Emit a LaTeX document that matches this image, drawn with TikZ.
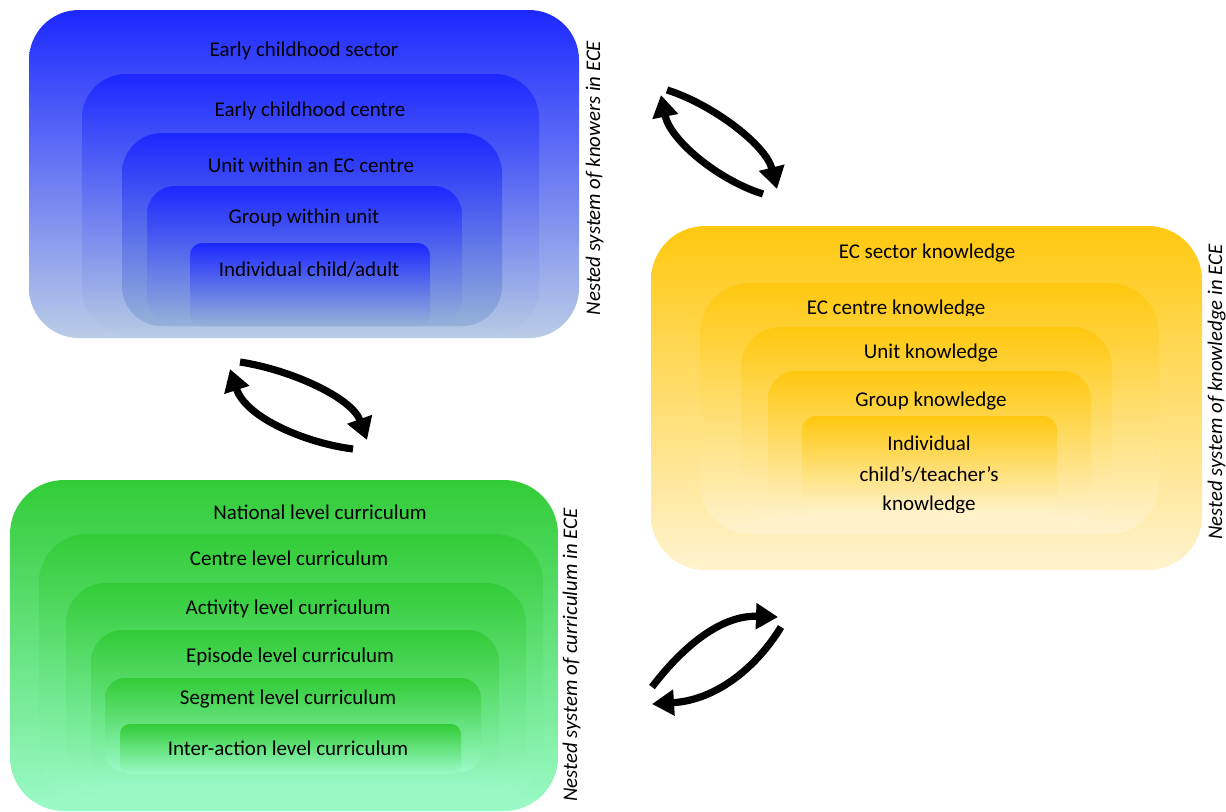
\documentclass[tikz,border=0pt]{standalone}
\usepackage{fontspec}
\setmainfont{Carlito}
\usetikzlibrary{arrows.meta}
\definecolor{bluetop}{RGB}{28,40,255}
\definecolor{bluebotA}{RGB}{186,205,230}
\definecolor{bluebotB}{RGB}{150,178,216}
\definecolor{yeltop}{RGB}{255,200,15}
\definecolor{yelbot}{RGB}{255,243,206}
\definecolor{grntop}{RGB}{50,204,55}
\definecolor{grnbot}{RGB}{155,250,200}
\tikzset{
  lbl/.style={font=\fontsize{10.5}{12.6}\selectfont, text height=0.62em, text depth=0pt, inner sep=0pt, anchor=center},
  side/.style={font=\fontsize{10.4}{12.6}\selectfont\itshape, text height=0.62em, text depth=0pt, inner sep=0pt, anchor=center, rotate=90},
  cyc/.style={line width=3.6pt, line cap=butt, -{Triangle[length=11pt,width=12.5pt]}},
}
\begin{document}
\begin{tikzpicture}[x=0.5pt,y=-0.5pt]
\useasboundingbox (0,0) rectangle (1226,811);
% ---------------- blue: knowers ----------------
\shade[top color=bluetop, bottom color=bluebotA, rounded corners=25pt] (29,10) rectangle (579,338);
\node[lbl] (b1) at (304,50) {Early childhood sector};
\shade[top color=bluetop, bottom color=bluebotA!85!bluebotB, rounded corners=22pt] (82,74) rectangle (539,333);
\node[lbl] (b2) at (310,110) {Early childhood centre};
\shade[top color=bluetop, bottom color=bluebotB, rounded corners=20pt] (122,133) rectangle (502,326);
\node[lbl] (b3) at (311,166) {Unit within an EC centre};
\shade[top color=bluetop, bottom color=bluebotB, rounded corners=14pt] (147,186) rectangle (462,326);
\node[lbl] (b4) at (304,217) {Group within unit};
\shade[top color=bluetop, bottom color=bluebotB, rounded corners=6pt] (190,243) rectangle (430,326);
\node[lbl] (b5) at (309,270) {Individual child/adult};
\node[side] (bl) at (594,178) {Nested system of knowers in ECE};
% ---------------- yellow: knowledge ----------------
\shade[top color=yeltop, bottom color=yelbot, rounded corners=27pt] (651,226) rectangle (1202,570);
\node[lbl] (y1) at (927,252) {EC sector knowledge};
\shade[top color=yeltop, bottom color=yelbot, rounded corners=25pt] (700,283) rectangle (1159,534);
\begin{scope}
\clip (700,283) rectangle (1159,315.5);
\node[lbl] (y2) at (896,308) {EC centre knowledge};
\end{scope}
\shade[top color=yeltop, bottom color=yelbot, rounded corners=20pt] (741,327) rectangle (1112,525);
\node[lbl] (y3) at (931,352) {Unit knowledge};
\shade[top color=yeltop, bottom color=yelbot, rounded corners=14pt] (768,371) rectangle (1091,520);
\node[lbl] (y4) at (931,400) {Group knowledge};
\shade[top color=yeltop, bottom color=yelbot, rounded corners=7pt] (802,416) rectangle (1057,515);
\node[lbl] (y5a) at (929,444) {Individual};
\node[lbl] (y5b) at (929,475) {child’s/teacher’s};
\begin{scope}
\clip (802,480) rectangle (1057,512.5);
\node[lbl] (y5c) at (929,504) {knowledge};
\end{scope}
\node[side] (yl) at (1216,392) {Nested system of knowledge in ECE};
% ---------------- green: curriculum ----------------
\shade[top color=grntop, bottom color=grnbot, rounded corners=27pt] (10,480) rectangle (558,811);
\node[lbl] (g1) at (320,513) {National level curriculum};
\shade[top color=grntop, bottom color=grnbot, rounded corners=24pt] (39,534) rectangle (543,800);
\node[lbl] (g2) at (289,559) {Centre level curriculum};
\shade[top color=grntop, bottom color=grnbot, rounded corners=20pt] (66,583) rectangle (526,795);
\node[lbl] (g3) at (288,608) {Activity level curriculum};
\shade[top color=grntop, bottom color=grnbot, rounded corners=16pt] (91,630) rectangle (499,790);
\node[lbl] (g4) at (290,656) {Episode level curriculum};
\shade[top color=grntop, bottom color=grnbot, rounded corners=10pt] (105,678) rectangle (481,772);
\node[lbl] (g5) at (288,698) {Segment level curriculum};
\shade[top color=grntop, bottom color=grnbot, rounded corners=5pt] (120,724) rectangle (461,774);
\node[lbl] (g6) at (288,749) {Inter-action level curriculum};
\node[side] (gl) at (571,655) {Nested system of curriculum in ECE};
% ---------------- cycle arrows ----------------
\coordinate (p1s) at (667,90);   \coordinate (p1e) at (777,189);
\coordinate (p2s) at (763,194);  \coordinate (p2e) at (661,95);
\draw[cyc] (p1s) .. controls (712,104) and (766,145) .. (p1e);
\draw[cyc] (p2s) .. controls (718,180) and (670,140) .. (p2e);
\coordinate (q1s) at (240,362);  \coordinate (q1e) at (367,440);
\coordinate (q2s) at (353,449);  \coordinate (q2e) at (230,369);
\draw[cyc] (q1s) .. controls (292,370) and (352,398) .. (q1e);
\draw[cyc] (q2s) .. controls (306,443) and (246,418) .. (q2e);
\coordinate (r1s) at (652,687);  \coordinate (r1e) at (778,617);
\coordinate (r2s) at (781,627);  \coordinate (r2e) at (652,704);
\draw[cyc] (r1s) .. controls (684,645) and (722,615) .. (r1e);
\draw[cyc] (r2s) .. controls (756,668) and (716,700) .. (r2e);
\end{tikzpicture}
\end{document}
